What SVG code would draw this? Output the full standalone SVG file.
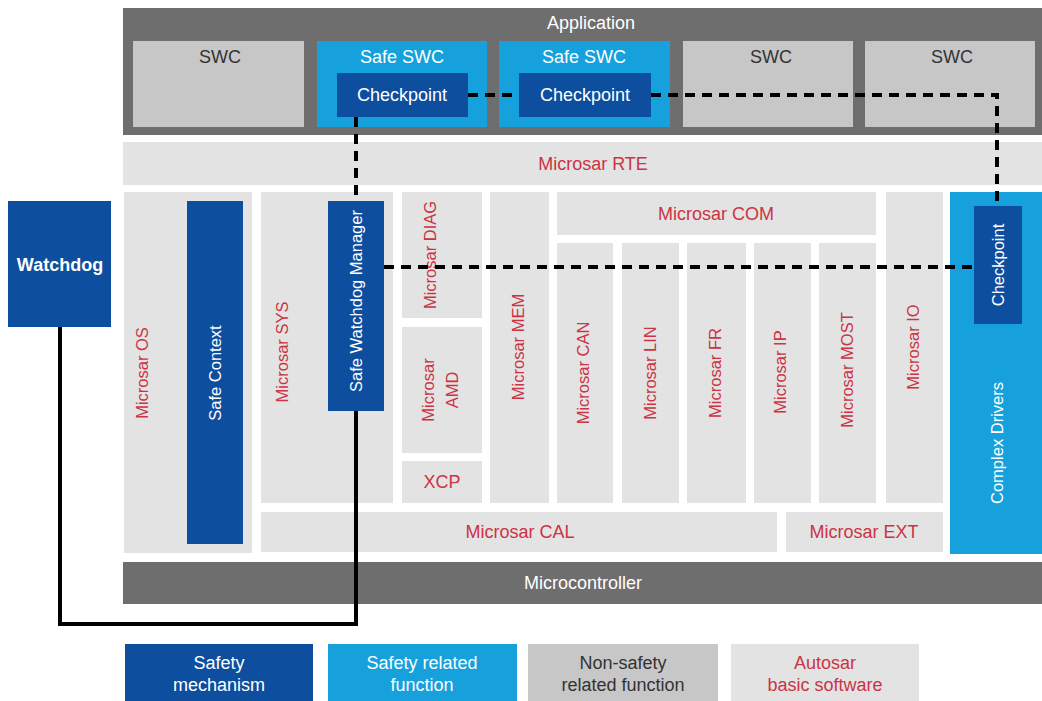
<svg xmlns="http://www.w3.org/2000/svg" width="1042" height="701" viewBox="0 0 1042 701">
<style>
text{font-family:"Liberation Sans",Arial,sans-serif}
.dk{fill:#0d4e9f}
.lb{fill:#16a0dc}
.ng{fill:#c7c7c7}
.ab{fill:#e3e3e3}
.bar{fill:#6e6e6e}
.h{font-size:18px;text-anchor:middle}
.v{font-size:16.5px;text-anchor:middle;dominant-baseline:central}
.w{fill:#ffffff}
.r{fill:#cc3344}
.g{fill:#333333}
.dash{fill:none;stroke:#000;stroke-width:4;stroke-dasharray:10 7}
.solid{fill:none;stroke:#000;stroke-width:4}
</style>
<rect width="1042" height="701" fill="#ffffff"/>
<g id="application">
<rect class="bar" x="123" y="8" width="919" height="127"/>
<text class="h w" x="591" y="29" font-size="19">Application</text>
</g>
<g id="swc1"><rect class="ng" x="133" y="41" width="171" height="86"/><text class="h g" x="220" y="63">SWC</text></g>
<g id="safeswc1"><rect class="lb" x="317" y="41" width="170" height="86"/><text class="h w" x="402" y="63">Safe SWC</text></g>
<g id="checkpoint1"><rect class="dk" x="337" y="73" width="131" height="44"/><text class="h w" x="402" y="101">Checkpoint</text></g>
<g id="safeswc2"><rect class="lb" x="499" y="41" width="171" height="86"/><text class="h w" x="584" y="63">Safe SWC</text></g>
<g id="checkpoint2"><rect class="dk" x="519" y="73" width="132" height="44"/><text class="h w" x="585" y="101">Checkpoint</text></g>
<g id="swc3"><rect class="ng" x="683" y="41" width="170" height="86"/><text class="h g" x="771" y="63">SWC</text></g>
<g id="swc4"><rect class="ng" x="865" y="41" width="170" height="86"/><text class="h g" x="952" y="63">SWC</text></g>
<g id="rte"><rect class="ab" x="123" y="142" width="919" height="43"/><text class="h r" x="593" y="170">Microsar RTE</text></g>
<g id="watchdog"><rect class="dk" x="8" y="201" width="103" height="126"/><text class="h w" x="60" y="271" font-size="17" font-weight="bold">Watchdog</text></g>
<g id="os"><rect class="ab" x="124" y="192" width="128" height="361"/><text class="v r" transform="translate(142 373) rotate(-90)">Microsar OS</text></g>
<g id="safecontext"><rect class="dk" x="187" y="201" width="56" height="343"/><text class="v w" transform="translate(215 373) rotate(-90)">Safe Context</text></g>
<g id="sys"><rect class="ab" x="261" y="192" width="132" height="311"/><text class="v r" transform="translate(282 352) rotate(-90)">Microsar SYS</text></g>
<g id="swm"><rect class="dk" x="328" y="201" width="56" height="210"/><text class="v w" transform="translate(356 301) rotate(-90)">Safe Watchdog Manager</text></g>
<g id="diag"><rect class="ab" x="402" y="192" width="80" height="126"/><text class="v r" transform="translate(430 255) rotate(-90)">Microsar DIAG</text></g>
<g id="amd"><rect class="ab" x="402" y="327" width="80" height="126"/><text class="v r" transform="translate(440 390) rotate(-90)"><tspan x="0" y="-12">Microsar</tspan><tspan x="0" y="12">AMD</tspan></text></g>
<g id="xcp"><rect class="ab" x="402" y="461" width="80" height="42"/><text class="h r" x="442" y="488">XCP</text></g>
<g id="mem"><rect class="ab" x="490" y="192" width="59" height="311"/><text class="v r" transform="translate(518 347) rotate(-90)">Microsar MEM</text></g>
<g id="com"><rect class="ab" x="557" y="192" width="319" height="43"/><text class="h r" x="716" y="220">Microsar COM</text></g>
<g id="can"><rect class="ab" x="557" y="243" width="56" height="260"/><text class="v r" transform="translate(583 373) rotate(-90)">Microsar CAN</text></g>
<g id="lin"><rect class="ab" x="622" y="243" width="57" height="260"/><text class="v r" transform="translate(650 373) rotate(-90)">Microsar LIN</text></g>
<g id="fr"><rect class="ab" x="687" y="243" width="59" height="260"/><text class="v r" transform="translate(715 373) rotate(-90)">Microsar FR</text></g>
<g id="ip"><rect class="ab" x="754" y="243" width="57" height="260"/><text class="v r" transform="translate(780 372) rotate(-90)">Microsar IP</text></g>
<g id="most"><rect class="ab" x="819" y="243" width="57" height="260"/><text class="v r" transform="translate(847 370) rotate(-90)">Microsar  MOST</text></g>
<g id="io"><rect class="ab" x="886" y="192" width="57" height="311"/><text class="v r" transform="translate(913 347) rotate(-90)">Microsar IO</text></g>
<g id="complexdrivers"><rect class="lb" x="950" y="192" width="92" height="362"/><text class="v w" transform="translate(997 443) rotate(-90)">Complex Drivers</text></g>
<g id="checkpoint3"><rect class="dk" x="974" y="206" width="48" height="118"/><text class="v w" transform="translate(998 265) rotate(-90)">Checkpoint</text></g>
<g id="cal"><rect class="ab" x="261" y="512" width="516" height="40"/><text class="h r" x="520" y="538">Microsar CAL</text></g>
<g id="ext"><rect class="ab" x="786" y="512" width="157" height="40"/><text class="h r" x="864" y="538">Microsar EXT</text></g>
<g id="microcontroller"><rect class="bar" x="123" y="562" width="919" height="42"/><text class="h w" x="583" y="589">Microcontroller</text></g>
<g id="connectors">
<path class="dash" d="M468 95 H519"/>
<path class="dash" d="M651 95 H997 V205"/>
<path class="dash" d="M356 117 V201"/>
<path class="dash" d="M384 267 H974"/>
<path class="solid" d="M60 327 V624 H356 V411"/>
</g>
<g id="legend-safety"><rect class="dk" x="125" y="644" width="188" height="57"/><text class="h w" x="219" y="669" font-size="17"><tspan x="219">Safety</tspan><tspan x="219" y="691">mechanism</tspan></text></g>
<g id="legend-related"><rect class="lb" x="328" y="644" width="189" height="57"/><text class="h w" x="422" y="669" font-size="17"><tspan x="422">Safety related</tspan><tspan x="422" y="691">function</tspan></text></g>
<g id="legend-nonsafety"><rect class="ng" x="528" y="644" width="190" height="57"/><text class="h g" x="623" y="669" font-size="17"><tspan x="623">Non-safety</tspan><tspan x="623" y="691">related function</tspan></text></g>
<g id="legend-autosar"><rect class="ab" x="731" y="644" width="188" height="57"/><text class="h r" x="825" y="669" font-size="17"><tspan x="825">Autosar</tspan><tspan x="825" y="691">basic software</tspan></text></g>
</svg>
